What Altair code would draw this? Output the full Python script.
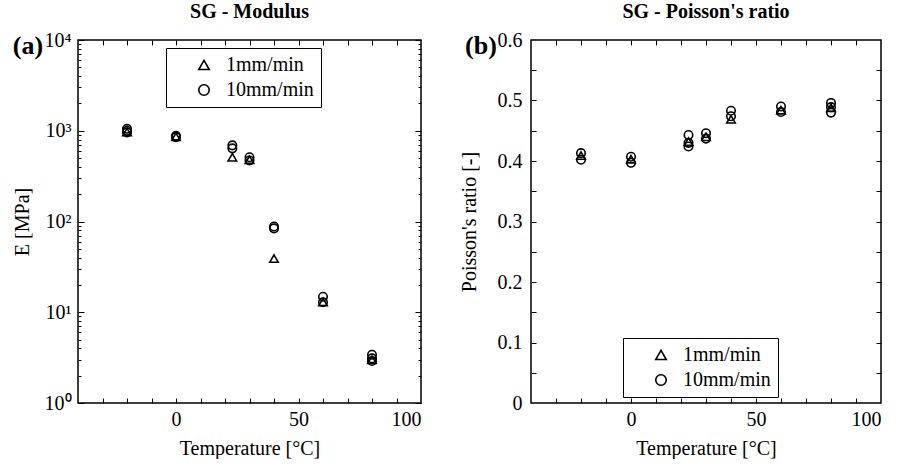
import altair as alt
import pandas as pd

# ---- data ----
rates = ["1mm/min", "10mm/min"]

mod_temp_1 = [-20, 0, 23, 30, 40, 60, 80]
mod_E_1 = [970, 860, 510, 480, 39, 13, 3.0]
mod_temp_10 = [-20, -20, -20, 0, 0, 23, 23, 30, 30, 40, 40, 60, 60, 80, 80, 80]
mod_E_10 = [1050, 1000, 960, 880, 850, 690, 640, 510, 470, 88, 84, 14.8, 12.9, 3.4, 3.1, 2.9]

poi_temp_1 = [-20, 0, 23, 30, 40, 60, 80]
poi_nu_1 = [0.409, 0.403, 0.432, 0.440, 0.469, 0.484, 0.488]
poi_temp_10 = [-20, -20, 0, 0, 23, 23, 23, 30, 30, 40, 40, 60, 60, 80, 80, 80]
poi_nu_10 = [0.413, 0.402, 0.407, 0.397, 0.443, 0.430, 0.424, 0.446, 0.437,
             0.483, 0.474, 0.490, 0.481, 0.496, 0.489, 0.480]

x_label_vals = [0, 50, 100]
x_tick_vals = [-30, -20, -10, 0, 10, 20, 30, 40, 50, 60, 70, 80, 90]
logE_major = [1, 10, 100, 1000, 10000]
logE_minor = [m * d for d in [1, 10, 100, 1000] for m in range(2, 10)]
nu_label_vals = [0, 0.1, 0.2, 0.3, 0.4, 0.5, 0.6]
nu_tick_vals = [0.05, 0.1, 0.15, 0.2, 0.25, 0.3, 0.35, 0.4, 0.45, 0.5, 0.55]

FONT = "Liberation Serif"

df_mod = pd.concat([
    pd.DataFrame({"T": mod_temp_1, "V": mod_E_1, "Rate": rates[0]}),
    pd.DataFrame({"T": mod_temp_10, "V": mod_E_10, "Rate": rates[1]}),
])
df_poi = pd.concat([
    pd.DataFrame({"T": poi_temp_1, "V": poi_nu_1, "Rate": rates[0]}),
    pd.DataFrame({"T": poi_temp_10, "V": poi_nu_10, "Rate": rates[1]}),
])

H = 363


def panel(df, W, yscale, ytitle, y_label_vals, y_tick_sets, label_expr, fmt,
          title, tag, lx, ly, ytitle_pad, ylabel_pad):
    xs = alt.Scale(domain=[-40, 100], nice=False, zero=False)
    base = alt.Chart(df)
    yaxis_kwargs = dict(values=y_label_vals, ticks=False, domain=False, grid=False,
                        title=ytitle, labelPadding=ylabel_pad, titlePadding=ytitle_pad,
                        labelFont=FONT, titleFont=FONT, labelFontWeight="normal",
                        titleFontWeight="normal", labelFontSize=20, titleFontSize=20)
    if label_expr:
        yaxis_kwargs["labelExpr"] = label_expr
    if fmt:
        yaxis_kwargs["format"] = fmt
    pts = base.mark_point(filled=False, size=72, strokeWidth=1.6, color="black", opacity=1).encode(
        x=alt.X("T:Q", scale=xs,
                axis=alt.Axis(values=x_label_vals, ticks=False, domain=False, grid=False,
                              title="Temperature [°C]", labelPadding=6, titlePadding=9,
                              labelFont=FONT, titleFont=FONT, labelFontWeight="normal",
                              titleFontWeight="normal", labelFontSize=20, titleFontSize=20)),
        y=alt.Y("V:Q", scale=yscale, axis=alt.Axis(**yaxis_kwargs)),
        shape=alt.Shape("Rate:N",
                        scale=alt.Scale(domain=rates, range=["triangle-up", "circle"]),
                        legend=alt.Legend(title=None, orient="none", legendX=lx, legendY=ly,
                                          strokeColor="black", fillColor="white",
                                          padding=7, rowPadding=5, symbolOffset=21,
                                          labelOffset=12, labelFont=FONT, labelFontSize=20,
                                          labelFontWeight="normal",
                                          labelColor="black", symbolSize=110,
                                          symbolStrokeWidth=1.6, symbolStrokeColor="black",
                                          symbolFillColor="transparent",
                                          labelExpr="datum.label + '       '")),
    )
    layers = [pts]
    # inward tick marks on all four sides
    for tvals, tsize in y_tick_sets:
        for yo in ["left", "right"]:
            layers.append(base.mark_point(opacity=0).encode(
                x=alt.X("T:Q", scale=xs, axis=None),
                y=alt.Y("V:Q", scale=yscale,
                        axis=alt.Axis(orient="right" if yo == "left" else "left", offset=-W,
                                      values=tvals, labels=False, domain=False, grid=False,
                                      tickSize=tsize, tickColor="black", tickWidth=1,
                                      title=None)),
            ))
    for xo in ["top", "bottom"]:
        layers.append(base.mark_point(opacity=0).encode(
            x=alt.X("T:Q", scale=xs,
                    axis=alt.Axis(orient=xo, offset=-H, values=x_tick_vals, labels=False,
                                  domain=False, grid=False, tickSize=5, tickColor="black",
                                  tickWidth=1, title=None)),
            y=alt.Y("V:Q", scale=yscale, axis=None),
        ))
    tag_layer = alt.Chart(pd.DataFrame({"t": [tag]})).mark_text(
        font=FONT, fontSize=26, fontWeight="bold", align="center", baseline="alphabetic",
        color="black").encode(x=alt.value(-50), y=alt.value(14), text="t:N")
    layers.append(tag_layer)
    return alt.layer(*layers).resolve_axis(x="independent", y="independent").properties(
        width=W, height=H,
        title=alt.Title(title, font=FONT, fontSize=20, fontWeight="bold", color="black",
                        anchor="middle", offset=8),
    )


label_expr_log = ("datum.value == 1 ? '10⁰' : datum.value == 10 ? '10¹' : "
                  "datum.value == 100 ? '10²' : datum.value == 1000 ? '10³' : '10⁴'")

left = panel(df_mod, 343, alt.Scale(type="log", domain=[1, 10000], nice=False),
             "E [MPa]", logE_major, [(logE_major, 6), (logE_minor, 3)], label_expr_log, None,
             "SG - Modulus", "(a)", 88, 8, 12, 7)
right = panel(df_poi, 350, alt.Scale(domain=[0, 0.6], nice=False, zero=False),
              "Poisson's ratio [-]", nu_label_vals, [(nu_tick_vals, 5)], None, "~g",
              "SG - Poisson's ratio", "(b)", 92, 298, 18, 9)

chart = alt.hconcat(left, right, spacing=35).resolve_scale(shape="independent").resolve_legend(
    shape="independent"
).properties(
    padding={"left": 11, "top": 1, "right": 5, "bottom": 0},
    background="white",
).configure(font=FONT).configure_view(stroke="black", strokeWidth=1.5).configure_axis(
    labelFont=FONT, labelFontSize=20, labelColor="black",
    titleFont=FONT, titleFontSize=20, titleFontWeight="normal", titleColor="black",
).configure_legend(labelFont=FONT)

chart.save("out.html", embed_options={"renderer": "svg", "actions": False})
